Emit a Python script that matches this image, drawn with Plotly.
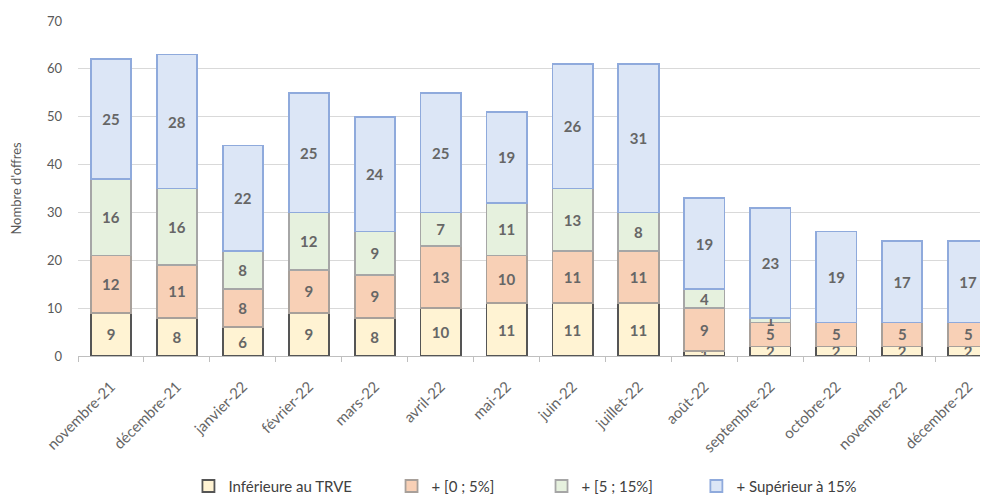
import plotly.graph_objects as go

months = ["novembre-21", "décembre-21", "janvier-22", "février-22", "mars-22", "avril-22",
          "mai-22", "juin-22", "juillet-22", "août-22", "septembre-22", "octobre-22",
          "novembre-22", "décembre-22"]
inferieure = [9, 8, 6, 9, 8, 10, 11, 11, 11, 1, 2, 2, 2, 2]
plus_0_5 = [12, 11, 8, 9, 9, 13, 10, 11, 11, 9, 5, 5, 5, 5]
plus_5_15 = [16, 16, 8, 12, 9, 7, 11, 13, 8, 4, 1, 0, 0, 0]
superieur = [25, 28, 22, 25, 24, 25, 19, 26, 31, 19, 23, 19, 17, 17]

pads = [9, 11, 10, 0]
series = [
    ("Inférieure au TRVE", inferieure, "#FFF3D3", "#555555"),
    ("+ [0 ; 5%]", plus_0_5, "#F8D0B6", "#A8A09A"),
    ("+ [5 ; 15%]", plus_5_15, "#E6F1DE", "#A6A6A6"),
    ("+ Supérieur à 15%", superieur, "#DCE6F6", "#8FAADC"),
]

fig = go.Figure()
for i, (name, vals, fill, line) in enumerate(series):
    fig.add_trace(go.Bar(
        x=months, y=vals, name=name + "\u00a0" * pads[i],
        marker=dict(color=fill, line=dict(color=line, width=1.8)),
        text=[str(v) if v else "" for v in vals],
        textposition="inside", insidetextanchor="middle",
        textfont=dict(size=15, color="#666666", family="Lato", weight="bold"),
        textangle=0,
    ))

fig.update_layout(
    barmode="stack", bargap=0.39,
    width=980, height=490,
    margin=dict(l=70, r=0, t=13, b=142),
    paper_bgcolor="white", plot_bgcolor="white",
    font=dict(family="Lato", color="#595959", size=13),
    uniformtext=dict(minsize=15, mode="show"),
    showlegend=True,
    legend=dict(orientation="h", xref="container", yref="container",
                x=0.528, xanchor="center", y=0.024, yanchor="middle",
                font=dict(size=15, color="#404040"), traceorder="normal",
                itemwidth=30),
    yaxis=dict(range=[0, 70], dtick=10, showgrid=True, gridcolor="#D9D9D9", gridwidth=1,
               zeroline=False, showline=False, ticks="", tickfont=dict(size=13, color="#595959"),
               ticklabelstandoff=15, automargin=False,
               title=dict(text="Nombre d'offres", font=dict(size=13, color="#595959"), standoff=33)),
    xaxis=dict(tickangle=-45, showline=True, linecolor="#BFBFBF", linewidth=1,
               range=[-0.5, 13.3], automargin=False,
               ticks="outside", tickson="boundaries", ticklen=5, tickcolor="#BFBFBF",
               ticklabelstandoff=15,
               tickfont=dict(size=15, color="#666666")),
)

fig.write_html("out.html")
